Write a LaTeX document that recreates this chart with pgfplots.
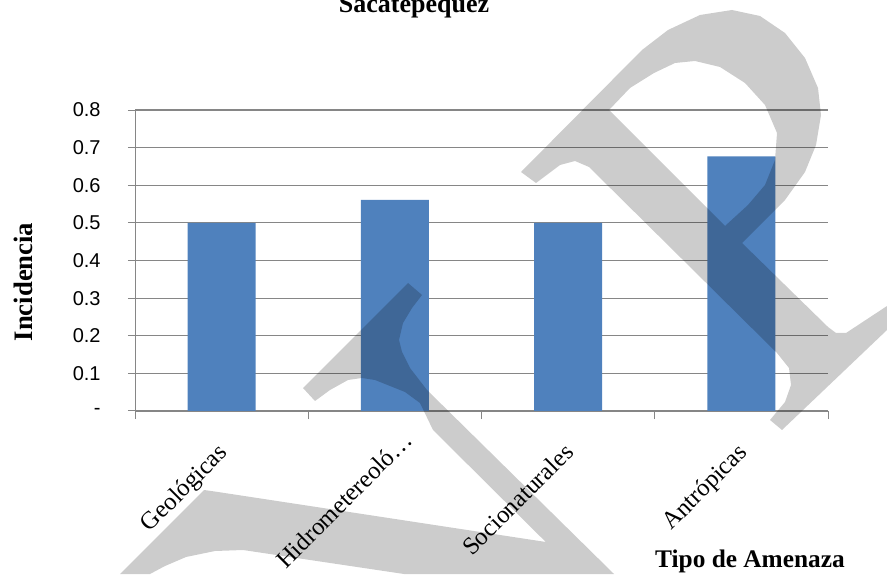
\documentclass[border=0pt]{standalone}
\usepackage{fontspec}
\setmainfont{Liberation Serif}
\newfontfamily\tickfont{Liberation Sans}
\usepackage{pgfplots}
\pgfplotsset{compat=1.18}
\definecolor{barblue}{HTML}{4F81BD}
\definecolor{gridgray}{HTML}{868686}

\begin{document}
\begin{tikzpicture}
\useasboundingbox (0,0) rectangle (665.25pt,430.5pt);
\clip (0,0) rectangle (665.25pt,430.5pt);

\begin{axis}[
    at={(101.25pt,122.25pt)}, anchor=south west,
    scale only axis,
    width=519.75pt, height=225.75pt,
    xmin=-0.5, xmax=3.5, ymin=0, ymax=0.8,
    ybar, bar width=51pt,
    axis x line*=bottom, axis y line*=left,
    axis line style={gridgray, line width=0.75pt},
    xtick={0,1,2,3},
    xticklabels={Geológicas,Hidrometereoló…\kern-13pt,Socionaturales,Antrópicas},
    minor xtick={-0.5,0.5,1.5,2.5,3.5},
    ytick={0,0.1,0.2,0.3,0.4,0.5,0.6,0.7,0.8},
    yticklabels={-,0.1,0.2,0.3,0.4,0.5,0.6,0.7,0.8},
    ymajorgrids,
    grid style={gridgray, line width=0.9pt},
    tick align=outside,
    major tick length=5.25pt, minor tick length=6pt,
    tick style={gridgray, line width=0.75pt},
    major x tick style={draw=none},
    yticklabel style={xshift=-17pt, font=\tickfont\fontsize{15}{15}\selectfont},
    xticklabel style={xshift=-4pt, yshift=-13pt, rotate=45, anchor=north east,
                      font=\fontsize{18.5}{18.5}\selectfont},
]
\addplot[fill=barblue, draw=none] coordinates {(0,0.5) (1,0.561) (2,0.5) (3,0.677)};
\end{axis}

% texts and watermark, in pixel units of the reference (y downwards)
\begin{scope}[yshift=430.5pt, x=0.75pt, y=-0.75pt]
\node[font=\bfseries\fontsize{19.5}{19.5}\selectfont, anchor=base] at (414,13) {Sacatepequez};
\node[font=\bfseries\fontsize{20}{20}\selectfont, rotate=90] at (23,282) {Incidencia};
\node[font=\bfseries\fontsize{19}{19}\selectfont] at (750,561) {Tipo de Amenaza};

\fill[black, opacity=0.2, even odd rule]
  (521,172) -- (642,50) -- (668,30) -- (700,15) -- (732,10) -- (760,16) -- (785,33)
  -- (805,58) -- (818,88) -- (821,115) -- (816,145) -- (805,172) -- (785,200)
  -- (763,222) -- (742,243) -- (828,327) -- (836,333) -- (846,333) -- (887,306)
  -- (887,330) -- (782,430) -- (770,420) -- (785,402) -- (791,385) -- (789,368)
  -- (777,353) -- (589,167) -- (575,161) -- (560,165) -- (536,183) -- cycle
  (609,110) -- (630,88) -- (654,73) -- (675,63) -- (695,61) -- (720,67) -- (745,83)
  -- (765,105) -- (777,133) -- (775,160) -- (765,185) -- (748,205) -- (725,226) -- cycle
  (303,388) -- (408,283) -- (422,295) -- (412,308) -- (403,323) -- (399,340)
  -- (402,352) -- (410,368) -- (427,390) -- (614,574) -- (578,574) -- (433,430)
  -- (420,403) -- (405,392) -- (390,386) -- (375,380) -- (362,378) -- (348,380)
  -- (330,390) -- (315,401) -- cycle
  (120,574) -- (204,490) -- (218,492) -- (546,542) -- (578,574) -- (404,574)
  -- (243,550) -- (215,551) -- (186,557) -- (165,566) -- (150,574) -- cycle;
\end{scope}
\end{tikzpicture}
\end{document}
